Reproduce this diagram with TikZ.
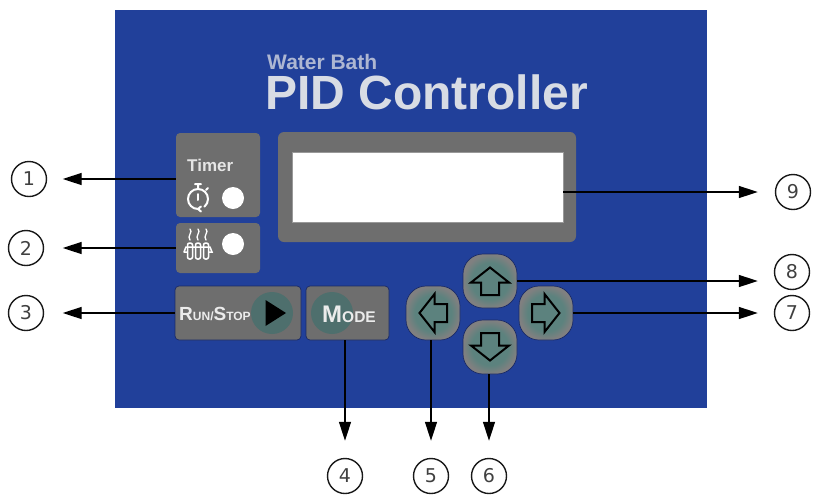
\documentclass[tikz,border=0pt]{standalone}
\usepackage{fontspec}
\setmainfont{Liberation Sans}
\newfontfamily\numfont{DejaVu Sans}
\usetikzlibrary{arrows.meta, positioning}

\definecolor{panelblue}{HTML}{21409A}
\definecolor{boxgray}{HTML}{6E6E6E}
\definecolor{keygray}{HTML}{808080}
\definecolor{keygreen}{HTML}{5C827E}
\definecolor{rungreen}{HTML}{4E6F6D}
\definecolor{edgeblue}{HTML}{1A2A66}
\definecolor{titlegray}{HTML}{D8DCE4}
\definecolor{subtitlegray}{HTML}{AEB7D2}

\newcommand{\setfs}[1]{\fontsize{#1}{#1}\selectfont}
\pgfdeclareradialshading{keyglow}{\pgfpoint{0bp}{0bp}}{color(0bp)=(keygreen); color(17bp)=(keygreen); color(25bp)=(keygray); color(50bp)=(keygray)}

\begin{document}
\begin{tikzpicture}[x=1pt, y=-1pt,
    panelbox/.style={fill=boxgray, rounded corners=4pt, inner sep=0pt},
    pressbox/.style={panelbox, draw=edgeblue, line width=0.7pt},
    arrowkey/.style={draw=edgeblue, line width=0.7pt, shading=keyglow, rounded corners=20pt, minimum size=54pt, inner sep=0pt},
    led/.style={circle, fill=white, minimum size=22pt, inner sep=0pt},
    runcircle/.style={circle, fill=rungreen, minimum size=42pt, inner sep=0pt},
    numcircle/.style={circle, draw=black!90, line width=1.4pt, minimum size=35pt, inner sep=0pt, text=black!75, font=\numfont\setfs{19}},
    leader/.style={-{Triangle[length=19pt, width=12pt]}, black, line width=1.3pt},
    iconline/.style={white, line width=2pt, line cap=round},
    keyarrow/.pic={
        \draw[black, line width=2pt, line join=miter, fill=keygreen]
            (0,-13.5) -- (19,1.5) -- (9,1.5) -- (9,14) -- (-9,14) -- (-9,1.5) -- (-19,1.5) -- cycle;
    }]

    \useasboundingbox (0,0) rectangle (813,496);

    % --- Front Panel ---
    \fill[panelblue] (115,10) rectangle (707,408);
    \node[anchor=base west, inner sep=0pt, text=subtitlegray, font=\bfseries\setfs{21}] (subtitle) at (267,69.5) {Water Bath};
    \node[anchor=base west, inner sep=0pt, text=titlegray, font=\bfseries\setfs{48}] (title) at (265,109) {PID Controller};

    % --- Display ---
    \node[panelbox, rounded corners=6pt, minimum width=298pt, minimum height=110pt] (display) at (427,187) {};
    \node[fill=white, draw=black!40, line width=0.5pt, minimum width=271pt, minimum height=70pt, inner sep=0pt] (screen) at (427.5,187) {};

    % --- Timer and Heater ---
    \node[panelbox, minimum width=84pt, minimum height=84pt] (timerbox) at (218,175) {};
    \node[anchor=base west, inner sep=0pt, text=white!90!black, font=\bfseries\setfs{17}] (timerlabel) at (187,171) {Timer};
    \node[led] (timerled) at (233,198) {};
    \begin{scope}[shift={(198,199)}]
        \draw[iconline] (0,10) arc[start angle=90, end angle=410, radius=10];
        \draw[iconline] (0,10) -- (3,7.5) (0,10) -- (3,12.5);
        \draw[iconline] (-3,-15) -- (3,-15) (0,-15) -- (0,-10) (8,-9) -- (10,-11);
        \draw[iconline] (0,-5) -- (0,1);
    \end{scope}
    \node[panelbox, minimum width=84pt, minimum height=50pt] (heaterbox) at (218,248) {};
    \node[led] (heaterled) at (233,244) {};
    \foreach \tubex in {190,198,206} {
        \draw[iconline, line width=1.3pt] (\tubex,229) .. controls (\tubex+3.5,232) and (\tubex-3.5,236) .. (\tubex,240);
        \draw[iconline, line width=1.5pt, rounded corners=2pt] (\tubex-2.5,243) rectangle (\tubex+2.5,259);
    }
    \draw[iconline, line width=1.5pt] (184,252) -- (186,247) -- (210,247) -- (212,252) -- (209,252) (184,252) -- (187,252);

    % --- Run/Stop and Mode ---
    \node[pressbox, minimum width=126pt, minimum height=54pt] (runbox) at (238,313) {};
    \node[pressbox, minimum width=83pt, minimum height=54pt] (modebox) at (347.5,313) {};
    \node[runcircle] (runcirc) at (272,313) {};
    \node[runcircle] (modecirc) at (332,313) {};
    \fill[black] (265.5,300) -- (286,313) -- (265.5,326) -- cycle;
    \node[anchor=base west, inner sep=0pt, text=white!92!black, font=\bfseries] (runlabel) at (179,320.5)
        {{\setfs{19}R}{\setfs{12}UN/}{\setfs{19}S}{\setfs{12}TOP}};
    \node[anchor=base west, inner sep=0pt, text=white!92!black, font=\bfseries] (modelabel) at (322,322)
        {{\setfs{24}M}{\setfs{15.5}ODE}};

    % --- Arrow Keys ---
    \node[arrowkey] (upkey) at (490,281) {};
    \node[arrowkey] (leftkey) at (433,313) {};
    \node[arrowkey] (rightkey) at (546,313) {};
    \node[arrowkey] (downkey) at (490,347) {};
    \pic at (upkey) {keyarrow};
    \pic[rotate=90] at (leftkey) {keyarrow};
    \pic[rotate=-90] at (rightkey) {keyarrow};
    \pic[rotate=180] at (downkey) {keyarrow};

    % --- Numbered Callouts ---
    \node[numcircle] (num1) at (29,179) {1};
    \node[numcircle] (num2) at (26,248) {2};
    \node[numcircle] (num3) at (26,313) {3};
    \node[numcircle] (num4) at (345,476) {4};
    \node[numcircle] (num5) at (431,476) {5};
    \node[numcircle] (num6) at (489,476) {6};
    \node[numcircle] (num7) at (792,313) {7};
    \node[numcircle] (num8) at (792,272) {8};
    \node[numcircle] (num9) at (793,192) {9};

    \draw[leader, shorten >=15.5pt] (timerbox.west |- num1) -- (num1.east);
    \draw[leader, shorten >=18.5pt] (heaterbox.west |- num2) -- (num2.east);
    \draw[leader, shorten >=18.5pt] (runbox.west |- num3) -- (num3.east);
    \draw[leader, shorten >=17pt] (modebox.south -| num4) -- (num4.north);
    \draw[leader, shorten >=17pt] (leftkey.south -| num5) -- (num5.north);
    \draw[leader, shorten >=17pt] (downkey.south -| num6) -- (num6.north);
    \draw[leader, shorten >=16pt] (rightkey.east) -- (num7.west);
    \draw[leader, shorten >=16pt] (upkey.east) -- (upkey.east -| num8.west);
    \draw[leader, shorten >=17pt] (screen.east |- num9) -- (num9.west);

\end{tikzpicture}
\end{document}
